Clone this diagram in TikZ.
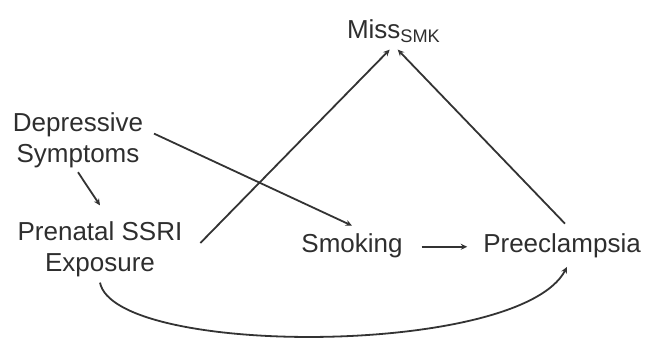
\documentclass[tikz,border=0pt]{standalone}
\usepackage{fontspec}
\setmainfont{Liberation Sans}
\usetikzlibrary{arrows.meta,calc}
\begin{document}
\begin{tikzpicture}[x=1pt,y=-1pt,
  lbl/.style={inner sep=0pt,outer sep=0pt,font=\fontsize{26}{31}\selectfont,text=black!82,align=center},
  arr/.style={line width=1.8pt,draw=black!80,-{Stealth[length=6.5pt,width=6pt]}},
  lne/.style={line width=1.8pt,draw=black!80}]
\useasboundingbox (0,0) rectangle (647,337);
\node[lbl,anchor=base west] (miss) at (347,38.3) {Miss\textsubscript{SMK}};
\node[lbl] (dep) at (78,140.6) {Depressive\\Symptoms};
\node[lbl] (pre) at (100,249) {Prenatal SSRI\\Exposure};
\node[lbl,anchor=base] (smk) at (352,252.5) {Smoking};
\node[lbl,anchor=base] (pree) at (562,252.5) {Preeclampsia};
\draw[arr] ($(dep.east)+(11,-7)$) -- ($(smk.north)+(0,-8)$);
\draw[arr] ($(dep.south)+(0,4)$) -- ($(pre.north)+(0,-16)$);
\draw[arr] ($(pre.east)+(18,-6)$) -- ($(miss.south)+(-4,7)$);
\draw[arr] ($(pree.north)+(3,-10)$) -- ($(miss.south)+(4,7)$);
\draw[arr] ($(smk.east)+(19,1)$) -- ($(pree.west)+(-16,1)$);
\draw[arr] ($(pre.south)+(0,6)$) .. controls (115,357) and (520,357) .. ($(pree.south)+(5,9)$);
\end{tikzpicture}
\end{document}
